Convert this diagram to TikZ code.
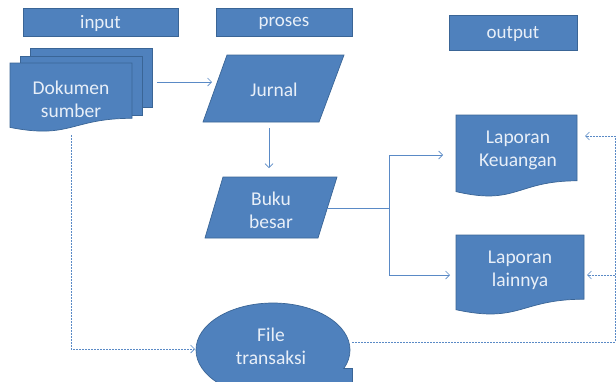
\documentclass[tikz,border=0pt]{standalone}
\usepackage{fontspec}
\setmainfont{Carlito}
\usetikzlibrary{arrows.meta}
\definecolor{fillb}{HTML}{4F81BD}
\definecolor{edgeb}{HTML}{3A6596}
\definecolor{lineb}{HTML}{5A8AC6}
\definecolor{txt}{HTML}{E8EFF8}
\tikzset{
  shp/.style={fill=fillb, draw=edgeb, line width=0.7pt},
  hdrbox/.style={shp, inner sep=0pt, outer sep=0pt, text=txt, text depth=0pt, font=\fontsize{19}{22}\selectfont},
  lbl/.style={text=txt, font=\fontsize{19.5}{23}\selectfont, align=center, inner sep=0pt},
  conn/.style={draw=lineb, line width=0.7pt, -{Straight Barb[length=4pt,width=8pt]}},
  dconn/.style={draw=lineb, line width=0.6pt, dash pattern=on 2pt off 1pt, -{Straight Barb[length=4pt,width=8pt]}},
}
\begin{document}
\begin{tikzpicture}[x=1pt,y=-1pt]
\useasboundingbox (0,0) rectangle (616,381);
\clip (0,0) rectangle (616,381);
\fill[white] (0,0) rectangle (616,381);

% headers
\node[hdrbox, minimum width=155pt, minimum height=28pt] (input) at (100.5,22) {input};
\node[hdrbox, minimum width=136pt, minimum height=28pt] (proses) at (284,22) {proses};
\node[hdrbox, minimum width=128pt, minimum height=35pt] (output) at (513,32.5) {output};

% Dokumen sumber (multi-document)
\draw[shp] (30,48) rectangle (152,107);
\draw[shp] (20,56) rectangle (142,115);
\draw[shp] (10,63) -- (132,63) -- (132,118.3) .. controls (71,118.3) and (71,139.4) .. (10,127.4) -- cycle;
\node[lbl] (dok) at (71,99) {Dokumen\\sumber};

% Jurnal
\draw[shp] (227,55) -- (344,55) -- (319,122) -- (203,122) -- cycle;
\node[lbl] (jurnal) at (274,90) {Jurnal};

% Buku besar
\draw[shp] (223,177) -- (337,177) -- (318,238) -- (205,238) -- cycle;
\node[lbl] (buku) at (271,210) {Buku\\besar};

% Laporan Keuangan
\draw[shp] (456,115) -- (577,115) -- (577,180.8) .. controls (516.5,180.8) and (516.5,205.8) .. (456,191.6) -- cycle;
\node[lbl] (lk) at (518,150) {Laporan\\Keuangan};

% Laporan lainnya
\draw[shp] (456,235) -- (584,235) -- (584,299.2) .. controls (520,299.2) and (520,323.6) .. (456,309.7) -- cycle;
\node[lbl] (ll) at (520,270.5) {Laporan\\lainnya};

% File transaksi (sequential storage)
\draw[shp] (273,368) rectangle (352,400);
\draw[shp] (273,350) ellipse [x radius=77pt, y radius=47pt];
\fill[fillb] (273,368.6) rectangle (351.6,400);
\node[lbl] (file) at (271,346) {File\\transaksi};

% connector points
\coordinate (dOut) at (157,82);
\coordinate (jIn) at (212,82);
\coordinate (jOut) at (269,128);
\coordinate (bIn) at (269,168);
\coordinate (bOut) at (327,208);
\coordinate (split) at (389,208);
\coordinate (lkIn) at (443,155);
\coordinate (llIn) at (450,275);
\coordinate (dBot) at (71,135);
\coordinate (fIn) at (195,349);
\coordinate (fOut) at (352,342);
\coordinate (rTop) at (615,136);
\coordinate (rMid) at (615,275);
\coordinate (lkR) at (585,136);
\coordinate (llR) at (587,275);

\draw[conn] (dOut) -- (jIn);
\draw[conn] (jOut) -- (bIn);
\draw[draw=lineb, line width=0.7pt] (bOut) -- (split);
\draw[conn] (split) |- (lkIn);
\draw[conn] (split) |- (llIn);

\draw[dconn] (dBot) |- (fIn);
\draw[dconn] (fOut) -| (rTop) -- (lkR);
\draw[dconn] (rMid) -- (llR);
\end{tikzpicture}
\end{document}
